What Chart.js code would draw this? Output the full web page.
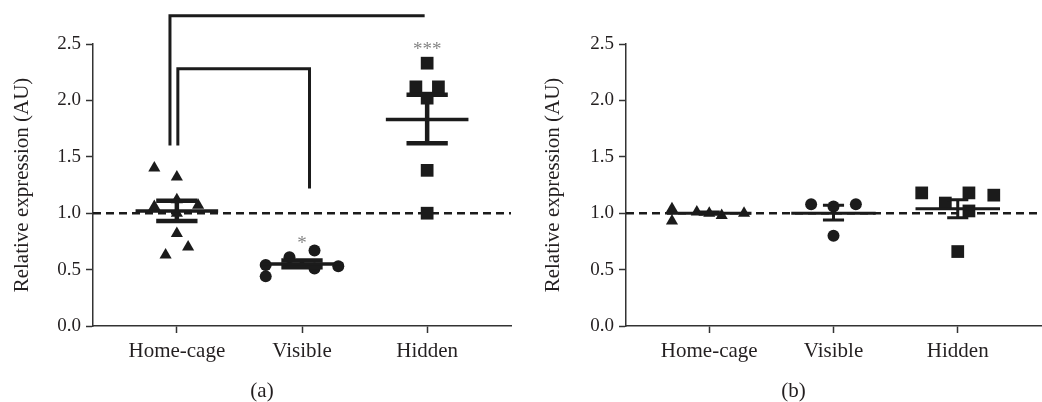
<!DOCTYPE html>
<html>
<head>
<meta charset="utf-8">
<script src="https://cdn.jsdelivr.net/npm/chart.js@4.4.1/dist/chart.umd.min.js"></script>
<style>
  html, body { margin: 0; padding: 0; background: #fff; overflow: hidden; width: 1042px; height: 402px; }
  .panel { position: absolute; top: 0; height: 402px; }
  #panelA { left: 0; width: 520px; }
  #panelB { left: 520px; width: 530px; }
</style>
</head>
<body>
<div class="panel" id="panelA"><canvas id="chartA"></canvas></div>
<div class="panel" id="panelB"><canvas id="chartB"></canvas></div>
<script>
const categories = ['Home-cage', 'Visible', 'Hidden']
const yTickValues = [0, 0.5, 1, 1.5, 2, 2.5]
const baseline = 1

// panel (a)
const homeA = [1.40, 1.32, 1.12, 1.06, 1.07, 1.00, 0.82, 0.70, 0.63]
const visibleA = [0.54, 0.44, 0.61, 0.67, 0.51, 0.53]
const hiddenA = [2.33, 2.12, 2.12, 2.02, 1.38, 1.00]
const meanA = [1.02, 0.55, 1.83]
const semTopA = [1.11, 0.58, 2.05]
const semBottomA = [0.93, 0.52, 1.62]
const starsA = ['', '*', '***']
const starLevelA = [null, 0.77, 2.49]
// comparison brackets (a): [category position, value]
const bracketOuterA = [[0.945, 1.60], [0.945, 2.75], [2.98, 2.75]]
const bracketInnerA = [[1.008, 1.60], [1.008, 2.28], [2.06, 2.28], [2.06, 1.22]]

// panel (b)
const homeB = [1.04, 0.93, 1.01, 1.00, 0.98, 1.00]
const visibleB = [1.08, 1.06, 1.08, 0.80]
const hiddenB = [1.18, 1.09, 1.18, 1.02, 1.16, 0.66]
const meanB = [1.00, 1.00, 1.04]
const semTopB = [1.01, 1.07, 1.12]
const semBottomB = [0.99, 0.94, 0.96]

// horizontal scatter of the dots inside a column (category units)
const homeJitterA = [-0.18, 0, 0, -0.18, 0.17, 0, 0, 0.09, -0.09]
const visibleJitterA = [-0.29, -0.29, -0.1, 0.1, 0.1, 0.29]
const hiddenJitterA = [0, -0.09, 0.09, 0, 0, 0]
const homeJitterB = [-0.3, -0.3, -0.1, 0, 0.1, 0.28]
const visibleJitterB = [-0.18, 0, 0.18, 0]
const hiddenJitterB = [-0.29, -0.1, 0.09, 0.09, 0.29, 0]

const INK = '#1b1b1b'
const X_MIN = 0.33
const X_MAX = 3.67

Chart.defaults.font.family = "'Liberation Serif', 'Times New Roman', serif"
Chart.defaults.color = '#231f20'

function dots(values, jitter, col) {
  return values.map((v, i) => ({ x: col + jitter[i], y: v }))
}

function hLines(values, half) {
  const out = []
  values.forEach((v, i) => {
    out.push({ x: i + 1 - half, y: v }, { x: i + 1 + half, y: v }, { x: i + 1 + half, y: null })
  })
  return out
}

function vLines(low, high) {
  const out = []
  low.forEach((v, i) => {
    out.push({ x: i + 1, y: v }, { x: i + 1, y: high[i] }, { x: i + 1, y: null })
  })
  return out
}

function pathData(points) {
  return points.map(p => ({ x: p[0], y: p[1] }))
}

function lineSet(data, width, extra) {
  return Object.assign({
    type: 'line',
    data: data,
    borderColor: INK,
    borderWidth: width,
    pointRadius: 0,
    fill: false,
    spanGaps: false,
    clip: false,
    order: 1,
  }, extra || {})
}

function pointSet(data, style, radius) {
  return {
    type: 'scatter',
    data: data,
    pointStyle: style,
    pointRadius: radius,
    pointBackgroundColor: INK,
    pointBorderColor: INK,
    pointBorderWidth: 0,
    order: 2,
  }
}

const starPlugin = {
  id: 'stars',
  afterDatasetsDraw(chart, args, opts) {
    if (!opts.labels) return
    const { ctx, scales } = chart
    ctx.save()
    ctx.fillStyle = '#858585'
    ctx.font = "19px 'Liberation Serif', serif"
    ctx.textAlign = 'center'
    ctx.textBaseline = 'alphabetic'
    opts.labels.forEach((t, i) => {
      if (!t) return
      const x = scales.x.getPixelForValue(i + 1)
      const y = scales.y.getPixelForValue(opts.levels[i])
      ctx.fillText(t, x, y + 10)
    })
    ctx.restore()
  },
}

const panelLabelPlugin = {
  id: 'panelLabel',
  afterDraw(chart, args, opts) {
    const { ctx, chartArea } = chart
    ctx.save()
    ctx.fillStyle = '#231f20'
    ctx.font = "21px 'Liberation Serif', serif"
    ctx.textAlign = 'center'
    ctx.textBaseline = 'middle'
    ctx.fillText(opts.text, (chartArea.left + chartArea.right) / 2 - 40, 391)
    ctx.restore()
  },
}

function makeChart(id, cfg) {
  const datasets = [
    lineSet([{ x: X_MIN, y: baseline }, { x: X_MAX, y: baseline }], 2.5, { borderDash: [8, 5], order: 5 }),
    pointSet(dots(cfg.home, cfg.homeJitter, 1), 'triangle', 7),
    pointSet(dots(cfg.visible, cfg.visibleJitter, 2), 'circle', 6),
    pointSet(dots(cfg.hidden, cfg.hiddenJitter, 3), 'rect', 9),
    lineSet(hLines(cfg.mean, cfg.meanHalf), cfg.meanWidth),
    lineSet(hLines(cfg.semTop, cfg.capHalf), cfg.capWidth),
    lineSet(hLines(cfg.semBottom, cfg.capHalf), cfg.capWidth),
    lineSet(vLines(cfg.semBottom, cfg.semTop), cfg.capWidth),
  ]
  ;(cfg.brackets || []).forEach(b => datasets.push(lineSet(pathData(b), 3)))

  return new Chart(document.getElementById(id), {
    type: 'scatter',
    data: { datasets },
    plugins: [starPlugin, panelLabelPlugin],
    options: {
      responsive: true,
      maintainAspectRatio: false,
      animation: false,
      layout: { padding: { top: 44, right: cfg.padRight, bottom: 0, left: 0 } },
      plugins: {
        legend: { display: false },
        tooltip: { enabled: false },
        stars: { labels: cfg.stars, levels: cfg.starLevels },
        panelLabel: { text: cfg.label },
      },
      scales: {
        x: {
          type: 'linear',
          min: X_MIN,
          max: X_MAX,
          afterBuildTicks: s => { s.ticks = categories.map((c, i) => ({ value: i + 1 })) },
          afterFit: s => { s.height = 76 },
          ticks: {
            callback: v => categories[Math.round(v) - 1],
            font: { size: 21 },
            padding: 6,
            color: '#231f20',
          },
          grid: { drawOnChartArea: false, tickLength: 7, tickColor: '#333', tickWidth: 1.5 },
          border: { color: '#333', width: 1.5 },
        },
        y: {
          min: 0,
          max: 2.5,
          afterBuildTicks: s => { s.ticks = yTickValues.map(v => ({ value: v })) },
          afterFit: s => { s.width = cfg.yWidth },
          ticks: {
            callback: v => v.toFixed(1),
            font: { size: 19 },
            padding: 5,
            color: '#231f20',
          },
          grid: { drawOnChartArea: false, tickLength: 7, tickColor: '#333', tickWidth: 1.5 },
          border: { color: '#333', width: 1.5 },
          title: {
            display: true,
            text: 'Relative expression (AU)',
            font: { size: 21 },
            padding: { top: cfg.titlePad, bottom: 0 },
            color: '#231f20',
          },
        },
      },
    },
  })
}

makeChart('chartA', {
  home: homeA, visible: visibleA, hidden: hiddenA,
  homeJitter: homeJitterA, visibleJitter: visibleJitterA, hiddenJitter: hiddenJitterA,
  mean: meanA, semTop: semTopA, semBottom: semBottomA,
  meanHalf: 0.33, capHalf: 0.165, meanWidth: 3.5, capWidth: 4.5,
  stars: starsA, starLevels: starLevelA,
  brackets: [bracketOuterA, bracketInnerA],
  label: '(a)', yWidth: 93, padRight: 3, titlePad: 10,
})

makeChart('chartB', {
  home: homeB, visible: visibleB, hidden: hiddenB,
  homeJitter: homeJitterB, visibleJitter: visibleJitterB, hiddenJitter: hiddenJitterB,
  mean: meanB, semTop: semTopB, semBottom: semBottomB,
  meanHalf: 0.34, capHalf: 0.085, meanWidth: 3, capWidth: 3,
  stars: null, starLevels: null,
  brackets: [],
  label: '(b)', yWidth: 106, padRight: 0, titlePad: 21,
})
</script>
</body>
</html>
